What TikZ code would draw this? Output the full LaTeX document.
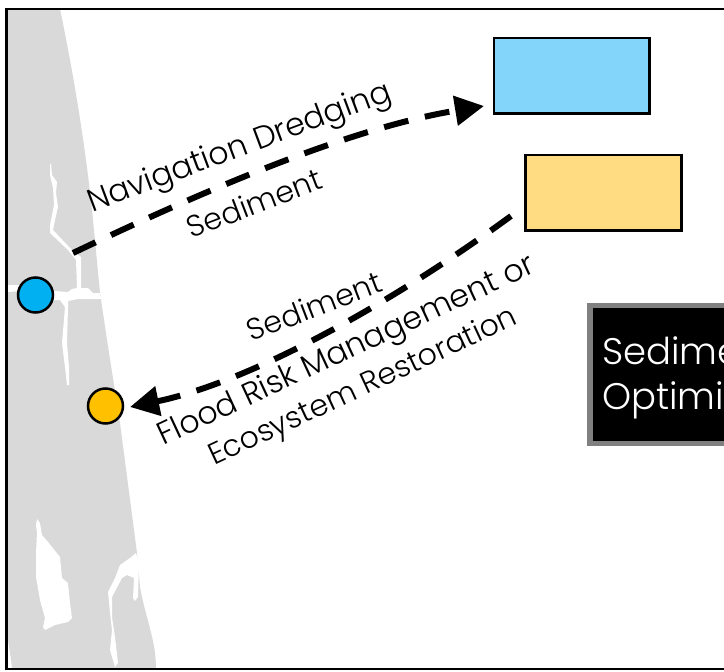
\documentclass[tikz,border=0pt]{standalone}
\usepackage{fontspec}
\setmainfont{Poppins Light}
\usetikzlibrary{arrows.meta}
\definecolor{land}{HTML}{D9D9D9}
\definecolor{bluebox}{HTML}{83D6FA}
\definecolor{yelbox}{HTML}{FFDC82}
\definecolor{bluedot}{HTML}{00B0F0}
\definecolor{yeldot}{HTML}{FFC000}
\definecolor{greyrim}{HTML}{808080}
\tikzset{
 water/.style={fill=white,draw=none},
 flow/.style={line width=6pt,dash pattern=on 25pt off 17pt,-{Triangle[length=29pt,width=29pt]}},
 lab/.style={font=\fontsize{30}{36}\selectfont,inner sep=0pt,align=center},
 lablong/.style={font=\fontsize{31.5}{36}\selectfont,inner sep=0pt,align=center},
 box/.style={draw=black,line width=2.5pt,anchor=north west,inner sep=0pt},
 dot/.style={circle,draw=black,line width=2.5pt,minimum size=35pt,inner sep=0pt},
}
\begin{document}
\begin{tikzpicture}[x=1pt,y=-1pt]
\useasboundingbox (0,0) rectangle (724,672);
\fill[white] (0,0) rectangle (724,672);
\fill[land] (7,9) -- (60,9) .. controls (72,67) and (85,140) .. (93,220) -- (100,293) -- (107,340) -- (120,423) -- (137,553) -- (140,587) .. controls (146,620) and (156,640) .. (156,669) -- (12,669) .. controls (11,655) and (8,645) .. (7,630) -- cycle;
% rivers
\fill[water] (51,163) -- (52,175) -- (57,182) -- (56,193) -- (58,207) -- (55,220) -- (53,230) -- (72,250) -- (81,257) -- (81,288) -- (88,288) -- (93,293) -- (100,293) -- (101,299) -- (78,299) -- (68,301) -- (68,308) -- (67,343) -- (69,367) -- (69,385) -- (67,385) -- (65,367) -- (62,343) -- (65,307) -- (60,300) -- (40,300) -- (40,290) -- (68,292) -- (72,289) -- (77,288) -- (76,260) -- (68,250) -- (50,233) -- (50,225) -- (54,205) -- (53,188) -- (50,175) -- (50,165) -- cycle;
\fill[water] (7,285) -- (22,285) -- (22,291) -- (7,292) -- cycle;
\fill[water] (37,519) -- (40,523) -- (42,535) -- (48,542) -- (60,557) -- (62,578) -- (68,583) -- (70,603) -- (72,618) -- (68,622) -- (55,625) -- (45,630) -- (43,627) -- (45,618) -- (40,600) -- (36,577) -- (36,553) -- (37,533) -- (36,525) -- cycle;
\fill[water] (136,553) -- (139,563) -- (138,597) -- (135,601) -- (133,598) -- (134,578) -- (127,575) -- (122,578) -- (112,597) -- (112,617) -- (115,637) -- (118,663) -- (115,667) -- (110,650) -- (112,630) -- (110,613) -- (108,592) -- (115,578) -- (120,565) -- (130,558) -- cycle;
% frame
\draw[black,line width=2.6pt] (724,9) -- (6.5,9) -- (6.5,669) -- (724,669);
% boxes
\node[box,fill=bluebox,minimum width=155.4pt,minimum height=75.5pt] (navbox) at (492.7,36.8) {};
\node[box,fill=yelbox,minimum width=156pt,minimum height=75.5pt] (frmbox) at (524,153.5) {};
% black box
\fill[greyrim] (587,303) rectangle (724,446);
\node[fill=black,anchor=north west,minimum width=132pt,minimum height=133pt,inner sep=0pt] (title) at (592.5,308) {};
\begin{scope}
\clip (592,308) rectangle (724,441);
\node[anchor=west,text=white,font=\fontsize{37}{45}\selectfont,align=left,inner sep=0pt] (titletext) at (602,378) {Sediment\\Optimization};
\end{scope}
% dots
\node[dot,fill=bluedot] (bd) at (35.5,295) {};
\node[dot,fill=yeldot] (yd) at (105.5,406) {};
% arrows
\coordinate (a1) at (73,253);
\coordinate (a2) at (484,106);
\draw[flow] (a1) .. controls (205,190) and (350,128) .. (a2);
\coordinate (b1) at (511,216);
\coordinate (b2) at (130,407);
\draw[flow] (b1) .. controls (391,304) and (250,382) .. (b2);
% labels
\node[lablong,rotate=20.5] (l1) at (240,149) {Navigation Dredging};
\node[lab,rotate=21] (l2) at (254,203) {Sediment};
\node[lab,rotate=21] (l3) at (314,306) {Sediment};
\node[lablong,rotate=25] (l4) at (347,352) {Flood Risk Management or};
\node[lab,rotate=25] (l5) at (363.5,388) {Ecosystem Restoration};
\end{tikzpicture}
\end{document}
